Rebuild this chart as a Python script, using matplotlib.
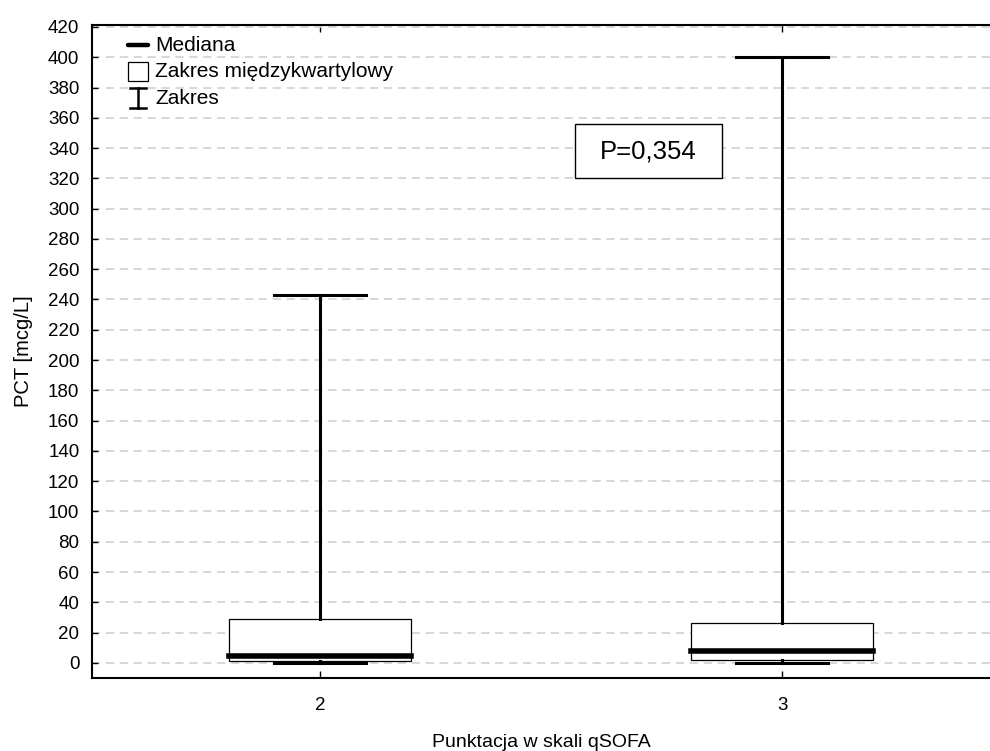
import matplotlib.pyplot as plt
from matplotlib.patches import Rectangle
from matplotlib.lines import Line2D

plt.rcParams['font.family'] = ['Liberation Sans', 'DejaVu Sans']

# PCT summary per gSOFA score
groups = ['2', '3']
positions = [2, 3]
mins = [0, 0]
q1s = [1.5, 2.2]
medians = [4.8, 7.9]
q3s = [29, 26.6]
maxs = [243, 400]
p_text = 'P=0,354'
yticks = list(range(0, 421, 20))

BLACK = '#000000'


def make_stats():
    stats = []
    for g, lo, a, m, b, hi in zip(groups, mins, q1s, medians, q3s, maxs):
        stats.append(dict(label=g, whislo=lo, q1=a, med=m, q3=b, whishi=hi, fliers=[]))
    return stats


def draw_legend(ax):
    tr = ax.transAxes
    ax.add_line(Line2D([0.040, 0.0624], [0.969, 0.969], transform=tr,
                       color=BLACK, lw=3.2, solid_capstyle='round', zorder=6))
    ax.add_patch(Rectangle((0.040, 0.914), 0.0224, 0.029, transform=tr,
                           facecolor='white', edgecolor=BLACK, lw=0.9, zorder=6))
    ax.add_line(Line2D([0.0512, 0.0512], [0.873, 0.9035], transform=tr,
                       color=BLACK, lw=1.8, zorder=6))
    for yy in (0.873, 0.9035):
        ax.add_line(Line2D([0.0423, 0.0601], [yy, yy], transform=tr,
                           color=BLACK, lw=1.8, zorder=6))
    labels = ['Mediana', 'Zakres międzykwartylowy', 'Zakres']
    for yy, txt in zip([0.969, 0.929, 0.887], labels):
        ax.text(0.0702, yy, txt, transform=tr, va='center', ha='left',
                fontsize=15, zorder=6)


def main():
    fig = plt.figure(figsize=(9.9, 7.51), dpi=100)
    ax = fig.add_axes([0.0929, 0.0972, 0.9071, 0.8695])

    ax.bxp(make_stats(), positions=positions, widths=0.394, capwidths=0.2,
           showfliers=False, patch_artist=True,
           boxprops=dict(facecolor='white', edgecolor=BLACK, linewidth=0.9),
           whiskerprops=dict(color=BLACK, linewidth=2.2),
           capprops=dict(color=BLACK, linewidth=2.2),
           medianprops=dict(color=BLACK, linewidth=4.0, solid_capstyle='projecting'),
           zorder=3)

    ax.set_xlim(1.5065, 3.45)
    ax.set_ylim(-10, 421.3)
    ax.set_xticks(positions)
    ax.set_xticklabels(groups)
    ax.set_yticks(yticks)

    ax.yaxis.grid(True, color='#d4d4d4', linestyle=(0, (4.5, 3.2)), linewidth=1.3, zorder=0)
    ax.set_axisbelow(True)

    for side in ('left', 'bottom', 'top'):
        ax.spines[side].set_linewidth(1.5)
    ax.spines['right'].set_visible(False)

    ax.tick_params(axis='y', direction='in', length=4, width=1, labelsize=13.5, pad=9)
    ax.tick_params(axis='x', direction='in', length=5, width=1, labelsize=13.5,
                   pad=14, top=True)

    ax.set_xlabel('Punktacja w skali qSOFA', fontsize=14, labelpad=14)
    ax.set_ylabel('PCT [mcg/L]', fontsize=14.5, labelpad=11)

    # p-value box
    ax.add_patch(Rectangle((0.538, 0.7657), 0.1637, 0.0827, transform=ax.transAxes,
                           facecolor='white', edgecolor=BLACK, lw=1.0, zorder=5))
    ax.text(0.538 + 0.1637 / 2, 0.7657 + 0.0827 / 2, p_text, transform=ax.transAxes,
            ha='center', va='center', fontsize=18.5, zorder=6)

    draw_legend(ax)

    fig.savefig('out.png', dpi=100)


if __name__ == '__main__':
    main()
